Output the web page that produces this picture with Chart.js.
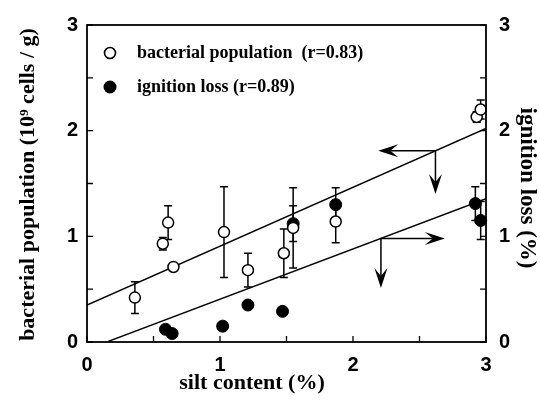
<!DOCTYPE html>
<html>
<head>
<meta charset="utf-8">
<script src="https://cdn.jsdelivr.net/npm/chart.js@4.4.0/dist/chart.umd.min.js"></script>
<style>
  html, body { margin: 0; padding: 0; background: #fff; }
  #wrap { width: 540px; height: 403px; }
</style>
</head>
<body>
<div id="wrap"><canvas id="siltChart"></canvas></div>
<script>
(function () {
  "use strict";

  // bacterial population (open circles, left axis)
  const siltBac   = [0.36, 0.57, 0.61, 0.65, 1.03, 1.21, 1.48, 1.55, 1.87, 2.93, 2.96];
  const bacterial = [0.42, 0.93, 1.13, 0.71, 1.04, 0.68, 0.84, 1.08, 1.14, 2.13, 2.20];
  const bacErr    = [0.15, 0.06, 0.16, 0.03, 0.43, 0.16, 0.23, 0.38, 0.20, 0.05, 0.09];

  // ignition loss (filled circles, right axis)
  const siltIgn  = [0.59, 0.64, 1.02, 1.21, 1.47, 1.55, 1.87, 2.92, 2.96];
  const ignition = [0.12, 0.08, 0.15, 0.35, 0.29, 1.12, 1.30, 1.31, 1.15];
  const ignErr   = [0, 0, 0, 0, 0, 0.17, 0.16, 0.16, 0.18];

  // regression lines
  const fitBacX = [0, 3];
  const fitBacY = [0.35, 2.02];
  const fitIgnX = [0.16, 3];
  const fitIgnY = [0.006, 1.355];

  // arrows: [x on line, y on line, horizontal target x, vertical target y]
  const arrowBac = [2.62, 1.81, 2.19, 1.40];
  const arrowIgn = [2.21, 0.98, 2.69, 0.51];

  const axisMax = 3;
  const tickStep = 0.5;
  const legendLabels = ['bacterial population  (r=0.83)', 'ignition loss (r=0.89)'];
  const xTitle  = 'silt content (%)';
  const yTitle  = 'bacterial population (10\u2079 cells / g)';
  const y1Title = 'ignition loss (%)';

  const serif = '"Liberation Serif", "Times New Roman", serif';
  const tickFont = { family: '"Liberation Sans", Arial, sans-serif', size: 20, weight: 'bold' };

  function pts(xs, ys) {
    return xs.map(function (x, i) { return { x: x, y: ys[i] }; });
  }
  function intLabel(v) {
    return Number.isInteger(v) ? String(v) : '';
  }

  // error bars, drawn under the markers
  const errorBars = {
    id: 'errorBars',
    beforeDatasetsDraw(chart) {
      const ctx = chart.ctx;
      const sx = chart.scales.x;
      ctx.save();
      ctx.strokeStyle = '#000';
      ctx.lineWidth = 1.5;
      function bars(xs, ys, es, sy) {
        xs.forEach(function (x, i) {
          if (!es[i]) return;
          const px = sx.getPixelForValue(x);
          const top = sy.getPixelForValue(ys[i] + es[i]);
          const bot = sy.getPixelForValue(ys[i] - es[i]);
          ctx.beginPath();
          ctx.moveTo(px, top); ctx.lineTo(px, bot);
          ctx.moveTo(px - 4, top); ctx.lineTo(px + 4, top);
          ctx.moveTo(px - 4, bot); ctx.lineTo(px + 4, bot);
          ctx.stroke();
        });
      }
      bars(siltBac, bacterial, bacErr, chart.scales.y);
      bars(siltIgn, ignition, ignErr, chart.scales.y1);
      ctx.restore();
    }
  };

  function arrowHead(ctx, x, y, ang) {
    const len = 20, half = 6.5, notch = 12;
    ctx.save();
    ctx.translate(x, y);
    ctx.rotate(ang);
    ctx.beginPath();
    ctx.moveTo(0, 0);
    ctx.lineTo(-len, -half);
    ctx.lineTo(-notch, 0);
    ctx.lineTo(-len, half);
    ctx.closePath();
    ctx.fill();
    ctx.restore();
  }

  // frame, inward ticks, arrows, legend, axis titles
  const decorations = {
    id: 'decorations',
    afterDatasetsDraw(chart) {
      const ctx = chart.ctx;
      const a = chart.chartArea;
      const sx = chart.scales.x, sy = chart.scales.y, sy1 = chart.scales.y1;
      ctx.save();
      ctx.strokeStyle = '#000';
      ctx.fillStyle = '#000';
      ctx.lineWidth = 1.8;
      ctx.strokeRect(a.left, a.top, a.right - a.left, a.bottom - a.top);

      ctx.lineWidth = 1.3;
      ctx.beginPath();
      sx.ticks.forEach(function (t) {
        const p = sx.getPixelForValue(t.value);
        ctx.moveTo(p, a.bottom); ctx.lineTo(p, a.bottom - 6);
      });
      sy.ticks.forEach(function (t) {
        const p = sy.getPixelForValue(t.value);
        ctx.moveTo(a.left, p); ctx.lineTo(a.left + 6, p);
      });
      sy1.ticks.forEach(function (t) {
        const p = sy1.getPixelForValue(t.value);
        ctx.moveTo(a.right, p); ctx.lineTo(a.right - 6, p);
      });
      ctx.stroke();

      // arrows
      function arrow(def, sv) {
        const x0 = sx.getPixelForValue(def[0]);
        const y0 = sv.getPixelForValue(def[1]);
        const hx = sx.getPixelForValue(def[2]);
        const vy = sv.getPixelForValue(def[3]);
        ctx.lineWidth = 1.5;
        ctx.beginPath();
        ctx.moveTo(hx + (hx < x0 ? 12 : -12), y0); ctx.lineTo(x0, y0);
        ctx.lineTo(x0, vy - 12);
        ctx.stroke();
        arrowHead(ctx, hx, y0, hx < x0 ? Math.PI : 0);
        arrowHead(ctx, x0, vy, Math.PI / 2);
      }
      arrow(arrowBac, sy);
      arrow(arrowIgn, sy1);

      // legend
      const lx = a.left + 23;
      const ly = [a.top + 28, a.top + 62];
      ctx.font = 'bold 18px ' + serif;
      ctx.textBaseline = 'middle';
      ctx.textAlign = 'left';
      ctx.lineWidth = 1.6;
      ctx.beginPath();
      ctx.arc(lx, ly[0], 5.5, 0, Math.PI * 2);
      ctx.fillStyle = '#fff';
      ctx.fill();
      ctx.stroke();
      ctx.fillStyle = '#000';
      ctx.beginPath();
      ctx.arc(lx, ly[1], 6.5, 0, Math.PI * 2);
      ctx.fill();
      ctx.fillText(legendLabels[0], lx + 27, ly[0]);
      ctx.fillText(legendLabels[1], lx + 27, ly[1]);

      // axis titles
      ctx.font = 'bold 22px ' + serif;
      ctx.textAlign = 'center';
      ctx.fillText(xTitle, a.left + 165, a.bottom + 41);
      ctx.save();
      ctx.translate(28, (a.top + a.bottom) / 2 + 1);
      ctx.rotate(-Math.PI / 2);
      ctx.fillText(yTitle, 0, 0);
      ctx.restore();
      ctx.save();
      ctx.font = 'bold 23px ' + serif;
      ctx.translate(a.right + 41, 188);
      ctx.rotate(Math.PI / 2);
      ctx.fillText(y1Title, 0, 0);
      ctx.restore();
      ctx.restore();
    }
  };

  const axisCommon = {
    type: 'linear',
    min: 0,
    max: axisMax,
    grid: { display: false, drawTicks: false },
    border: { display: false },
    ticks: {
      stepSize: tickStep,
      autoSkip: false,
      color: '#000',
      font: tickFont,
      callback: intLabel
    }
  };

  const ctx = document.getElementById('siltChart').getContext('2d');
  new Chart(ctx, {
    type: 'scatter',
    data: {
      datasets: [{
        label: 'bacterial population',
        data: pts(siltBac, bacterial),
        yAxisID: 'y',
        backgroundColor: '#fff',
        borderColor: '#000',
        borderWidth: 1.5,
        pointRadius: 5.5,
        clip: false,
        order: 1
      }, {
        label: 'ignition loss',
        data: pts(siltIgn, ignition),
        yAxisID: 'y1',
        backgroundColor: '#000',
        borderColor: '#000',
        borderWidth: 1,
        pointRadius: 6,
        clip: false,
        order: 1
      }, {
        type: 'line',
        label: 'fit bacterial',
        data: pts(fitBacX, fitBacY),
        yAxisID: 'y',
        borderColor: '#000',
        borderWidth: 1.5,
        pointRadius: 0,
        fill: false,
        order: 3
      }, {
        type: 'line',
        label: 'fit ignition',
        data: pts(fitIgnX, fitIgnY),
        yAxisID: 'y1',
        borderColor: '#000',
        borderWidth: 1.5,
        pointRadius: 0,
        fill: false,
        order: 3
      }]
    },
    options: {
      responsive: true,
      maintainAspectRatio: false,
      animation: false,
      layout: { padding: { top: 16, left: 0, right: 0, bottom: 0 } },
      plugins: {
        legend: { display: false },
        tooltip: { enabled: false }
      },
      scales: {
        x: Object.assign({}, axisCommon, {
          position: 'bottom',
          ticks: Object.assign({}, axisCommon.ticks, { padding: 11, maxRotation: 0 }),
          afterFit: function (s) { s.height = 61; }
        }),
        y: Object.assign({}, axisCommon, {
          position: 'left',
          ticks: Object.assign({}, axisCommon.ticks, { padding: 9 }),
          afterFit: function (s) { s.width = 87; }
        }),
        y1: Object.assign({}, axisCommon, {
          position: 'right',
          ticks: Object.assign({}, axisCommon.ticks, { padding: 13 }),
          afterFit: function (s) { s.width = 54; }
        })
      }
    },
    plugins: [errorBars, decorations]
  });
})();
</script>
</body>
</html>
